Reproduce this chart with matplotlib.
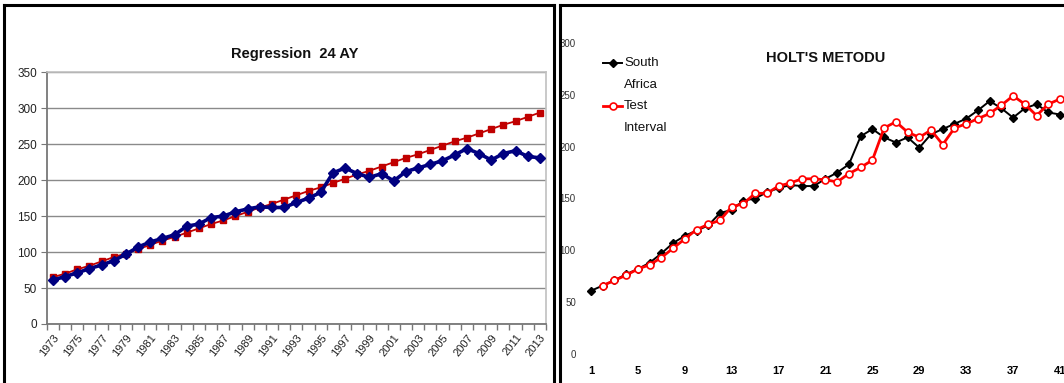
import matplotlib
matplotlib.use("Agg")
import matplotlib.pyplot as plt
from matplotlib.lines import Line2D

years = list(range(1973, 2014))
south_africa = [61, 66, 71, 77, 82, 88, 97, 107, 114, 119, 124, 136, 139, 148, 150,
                156, 160, 163, 162, 162, 169, 175, 183, 210, 217, 209, 204, 209, 199,
                212, 217, 222, 227, 235, 244, 237, 228, 237, 241, 233, 231]
regression = [65, 70, 76, 81, 87, 93, 98, 104, 110, 116, 121, 127, 133, 139, 144,
              150, 156, 162, 167, 173, 179, 185, 190, 196, 202, 208, 213, 219, 225,
              231, 236, 242, 248, 254, 259, 265, 271, 277, 282, 288, 294]
periods = list(range(1, 42))
test_periods = list(range(2, 42))
holt_test = [66, 71, 76, 82, 86, 93, 102, 111, 120, 125, 129, 142, 145, 155, 155,
             162, 165, 169, 169, 168, 166, 174, 180, 187, 218, 224, 214, 209, 216,
             202, 218, 222, 227, 232, 240, 249, 241, 230, 241, 246, 236]
left_title = "Regression  24 AY"
right_title = "HOLT'S METODU"
legend_labels = ["South\nAfrica", "Test\nInterval"]

plt.rcParams['font.family'] = ["Liberation Sans", "DejaVu Sans"]

W, H = 1064, 383
fig = plt.figure(figsize=(W / 100, H / 100), dpi=100)

def fx(px):
    return px / W

def fy(py):
    return 1 - py / H

# ---------- Left panel ----------
axL = fig.add_axes([fx(46.7), fy(324), fx(546 - 46.7), (324 - 72.3) / H])
xs = list(range(len(years)))
axL.plot(xs, regression, color="#C00000", lw=1.3, marker="s", ms=4.5,
         markeredgecolor="#C00000", zorder=3)
axL.plot(xs, south_africa, color="#000080", lw=2.6, marker="D", ms=5,
         markeredgecolor="#000080", zorder=4)
axL.set_xlim(-0.5, len(years) - 0.5)
axL.set_ylim(0, 350)
axL.set_yticks(range(0, 351, 50))
axL.yaxis.grid(True, color="#8a8a8a", lw=1.0)
axL.set_axisbelow(True)
axL.set_xticks([i for i in xs if i % 2 == 0])
axL.set_xticklabels([str(y) for i, y in zip(xs, years) if i % 2 == 0],
                    rotation=52, ha="right", rotation_mode="anchor", fontsize=8,
                    color="#222222")
axL.set_xticks([i - 0.5 for i in range(len(years) + 1)], minor=True)
axL.tick_params(axis="x", which="major", length=0, pad=6)
axL.tick_params(axis="x", which="minor", length=4, color="#777777", width=1)
axL.tick_params(axis="y", length=4, color="#777777", labelsize=8.5,
                labelcolor="#222222", pad=3)
for s in ["top", "right"]:
    axL.spines[s].set_color("#c0c0c0")
    axL.spines[s].set_linewidth(1.2)
for s in ["left", "bottom"]:
    axL.spines[s].set_color("#777777")
    axL.spines[s].set_linewidth(1.3)

fig.text(fx(295), fy(54), left_title, ha="center", va="center", fontsize=10.5,
         fontweight="bold", color="#111111")

# ---------- Right panel ----------
ppu = 11.73
left_px, right_px = 580, 1064
axR = fig.add_axes([fx(left_px), fy(354), fx(right_px - left_px), (354 - 43) / H])
axR.plot(periods, south_africa, color="black", lw=1.4, marker="D", ms=4,
         markeredgecolor="black", zorder=3)
axR.plot(test_periods, holt_test[:len(test_periods)], color="#FF0000", lw=2.0,
         marker="o", ms=5, markerfacecolor="white", markeredgecolor="#FF0000",
         markeredgewidth=1.2, zorder=4)
axR.set_xlim(1 - (591 - left_px) / ppu, 41 + (right_px - 1060) / ppu)
axR.set_ylim(0, 300)
axR.set_yticks(range(0, 301, 50))
axR.set_xticks(range(1, 42, 4))
axR.tick_params(axis="y", length=0, labelsize=7, labelcolor="#333333", pad=3)
axR.tick_params(axis="x", length=0, labelsize=8, pad=9)
for lab in axR.get_xticklabels():
    lab.set_fontweight("bold")
for s in axR.spines.values():
    s.set_visible(False)
axR.patch.set_alpha(0)

# manual legend (handle aligned with first text line, as in the reference)
leg_fs = 9.5
line_gap = 21.7
entries = [
    (legend_labels[0], dict(color="black", lw=1.4, marker="D", ms=4,
                            markeredgecolor="black")),
    (legend_labels[1], dict(color="#FF0000", lw=2.0, marker="o", ms=5,
                            markerfacecolor="white", markeredgecolor="#FF0000",
                            markeredgewidth=1.2)),
]
y0 = 63
for label, style in entries:
    fig.add_artist(Line2D([fx(603), fx(622)], [fy(y0), fy(y0)],
                          transform=fig.transFigure, markevery=[1], **style)
                   if False else
                   Line2D([fx(603), fx(612.5), fx(622)], [fy(y0)] * 3,
                          transform=fig.transFigure, markevery=[1], **style))
    for k, line in enumerate(label.split("\n")):
        fig.text(fx(624), fy(y0 + k * line_gap), line, ha="left", va="center",
                 fontsize=leg_fs, color="#111111")
    y0 += 2 * line_gap

fig.text(fx(826), fy(58), right_title, ha="center", va="center", fontsize=10.5,
         fontweight="bold", color="#111111")

# ---------- Panel frames ----------
frame_kw = dict(color="black", lw=2.2, transform=fig.transFigure, clip_on=False)
fig.add_artist(Line2D([fx(4), fx(4)], [fy(5), 0], **frame_kw))
fig.add_artist(Line2D([fx(4), fx(554)], [fy(5), fy(5)], **frame_kw))
fig.add_artist(Line2D([fx(554), fx(554)], [fy(5), 0], **frame_kw))
fig.add_artist(Line2D([fx(560), fx(560)], [fy(5), 0], **frame_kw))
fig.add_artist(Line2D([fx(560), 1], [fy(5), fy(5)], **frame_kw))

fig.savefig("out.png", dpi=100)
